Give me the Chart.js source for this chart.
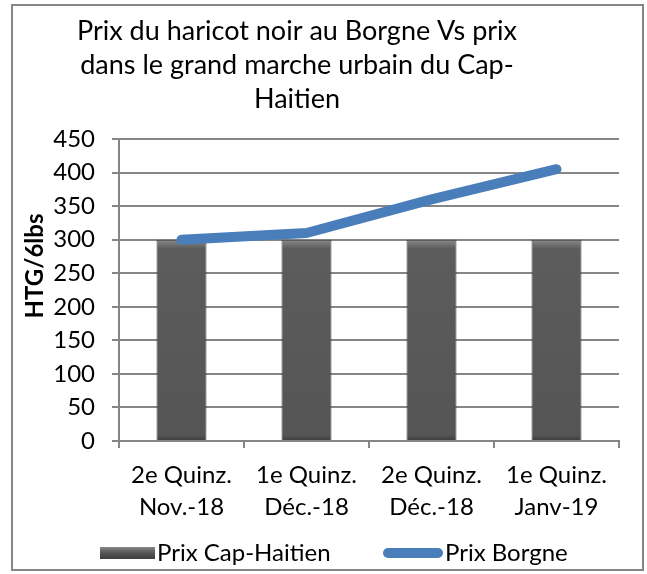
<!DOCTYPE html>
<html lang="fr">
<head>
    <meta charset="UTF-8">
    <title>Prix du haricot noir au Borgne Vs prix Cap-Haitien</title>
    <script src="https://cdn.jsdelivr.net/npm/chart.js"></script>
    <style>
        html, body {
            margin: 0;
            padding: 0;
            background-color: #fff;
        }
        .wrap {
            width: 647px;
            height: 574px;
        }
    </style>
</head>
<body>
    <div class="wrap">
        <canvas id="prixChart" width="647" height="574"></canvas>
    </div>
    <script>
        // données
        const categories = [
            ['2e Quinz.', 'Nov.-18'],
            ['1e Quinz.', 'Déc.-18'],
            ['2e Quinz.', 'Déc.-18'],
            ['1e Quinz.', 'Janv-19']
        ];
        const prixCapHaitien = [300, 300, 300, 300];
        const prixBorgne = [300, 310, 360, 405];
        const seriesNames = ['Prix Cap-Haitien', 'Prix Borgne'];
        const titleLines = ['Prix du haricot noir au Borgne Vs prix', 'dans le grand marche urbain du Cap-', 'Haitien'];
        const yTitle = 'HTG/6lbs';
        const yMax = 450;
        const yStep = 50;

        const FONT = 'Lato, Calibri, sans-serif';
        const GRID = '#868686';

        // dégradé "biseau" pour les barres
        function barFill(c) {
            const chart = c.chart;
            if (!chart.chartArea || c.raw === undefined) return '#595959';
            const top = chart.scales.y.getPixelForValue(c.raw);
            const bottom = chart.scales.y.getPixelForValue(0);
            const g = chart.ctx.createLinearGradient(0, top, 0, bottom);
            const h = bottom - top;
            g.addColorStop(0, '#8a8a8a');
            g.addColorStop(Math.min(1, 9 / h), '#5c5c5c');
            g.addColorStop(Math.max(0, 1 - 6 / h), '#555555');
            g.addColorStop(1, '#3c3c3c');
            return g;
        }

        // cadre, titres et légende à la manière d'Excel
        const excelFrame = {
            id: 'excelFrame',
            beforeDraw(chart) {
                const ctx = chart.ctx;
                ctx.save();
                ctx.fillStyle = '#fff';
                ctx.fillRect(0, 0, chart.width, chart.height);
                ctx.restore();
            },
            afterDraw(chart) {
                const ctx = chart.ctx;
                ctx.save();
                ctx.strokeStyle = GRID;
                ctx.lineWidth = 2;
                ctx.strokeRect(12, 5, 631, 565);

                ctx.fillStyle = '#000';
                ctx.font = '27px ' + FONT;
                ctx.textAlign = 'center';
                ctx.textBaseline = 'middle';
                titleLines.forEach((t, i) => ctx.fillText(t, 297, 31 + i * 34));

                // titre de l'axe vertical
                ctx.save();
                ctx.translate(35, 266);
                ctx.rotate(-Math.PI / 2);
                ctx.font = 'bold 24px ' + FONT;
                ctx.fillText(yTitle, 0, 0);
                ctx.restore();

                // légende
                const ly = 553;
                const bar = chart.data.datasets[0];
                const g = ctx.createLinearGradient(0, ly - 6, 0, ly + 6);
                g.addColorStop(0, '#8a8a8a');
                g.addColorStop(0.4, '#5c5c5c');
                g.addColorStop(1, '#3c3c3c');
                ctx.fillStyle = g;
                ctx.fillRect(100, ly - 6, 55, 12);

                const line = chart.data.datasets[1];
                ctx.strokeStyle = line.borderColor;
                ctx.lineWidth = line.borderWidth;
                ctx.lineCap = 'round';
                ctx.beginPath();
                ctx.moveTo(388, ly);
                ctx.lineTo(438, ly);
                ctx.stroke();

                ctx.fillStyle = '#000';
                ctx.font = '24px ' + FONT;
                ctx.textAlign = 'left';
                ctx.fillText(bar.label, 157, ly);
                ctx.fillText(line.label, 445, ly);
                ctx.restore();
            }
        };

        new Chart(document.getElementById('prixChart'), {
            type: 'bar',
            data: {
                labels: categories,
                datasets: [{
                    type: 'bar',
                    label: seriesNames[0],
                    data: prixCapHaitien,
                    backgroundColor: barFill,
                    borderColor: '#404040',
                    borderWidth: 1,
                    barPercentage: 0.4,
                    categoryPercentage: 1,
                    order: 2
                }, {
                    type: 'line',
                    label: seriesNames[1],
                    data: prixBorgne,
                    borderColor: '#4a7ebb',
                    borderWidth: 10,
                    borderCapStyle: 'round',
                    borderJoinStyle: 'round',
                    pointRadius: 0,
                    tension: 0,
                    fill: false,
                    order: 1
                }]
            },
            options: {
                responsive: false,
                animation: false,
                layout: {
                    padding: { top: 139, left: 13, right: 28, bottom: 53 }
                },
                plugins: {
                    legend: { display: false },
                    title: { display: false },
                    tooltip: { enabled: false }
                },
                scales: {
                    x: {
                        offset: true,
                        grid: {
                            offset: true,
                            drawOnChartArea: false,
                            tickLength: 7,
                            color: GRID,
                            lineWidth: 2
                        },
                        border: { color: GRID, width: 2 },
                        ticks: {
                            color: '#000',
                            font: { family: FONT, size: 24, lineHeight: 1.35 },
                            padding: 11,
                            maxRotation: 0
                        },
                        afterFit(s) { s.height = 80; }
                    },
                    y: {
                        min: 0,
                        max: yMax,
                        ticks: {
                            stepSize: yStep,
                            color: '#000',
                            font: { family: FONT, size: 24 },
                            padding: 17
                        },
                        grid: { color: GRID, lineWidth: 2, tickLength: 7 },
                        border: { color: GRID, width: 2 },
                        afterFit(s) { s.width = 106; }
                    }
                }
            },
            plugins: [excelFrame]
        });
    </script>
</body>
</html>
